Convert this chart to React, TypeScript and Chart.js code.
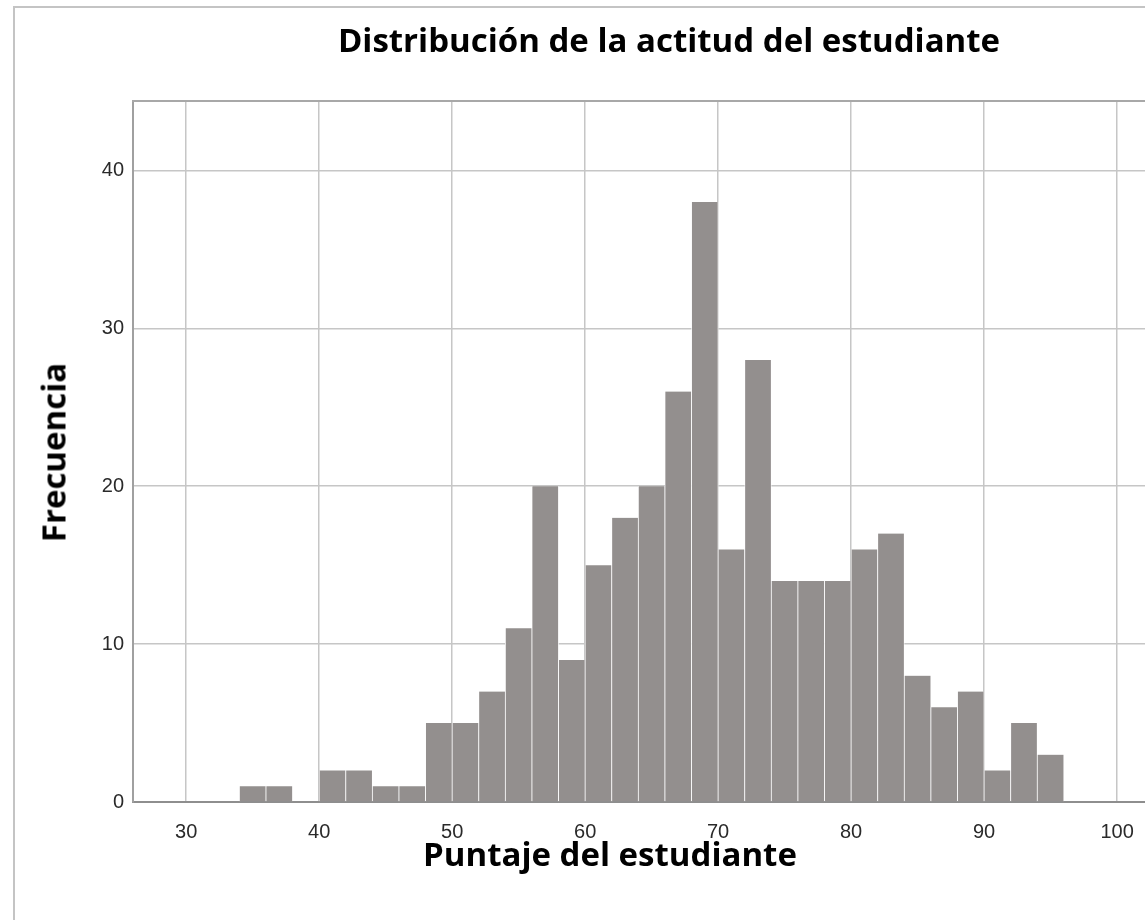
import React, { useEffect, useRef } from "react";
import { Chart, registerables } from "chart.js";

Chart.register(...registerables);

const chartTitle = "Distribución de la actitud del estudiante";
const xAxisTitle = "Puntaje del estudiante";
const yAxisTitle = "Frecuencia";

const binWidth = 2;
const binStarts = [
  34, 36, 38, 40, 42, 44, 46, 48, 50, 52, 54, 56, 58, 60, 62, 64,
  66, 68, 70, 72, 74, 76, 78, 80, 82, 84, 86, 88, 90, 92, 94,
];
const frequencies = [
  1, 1, 0, 2, 2, 1, 1, 5, 5, 7, 11, 20, 9, 15, 18, 20,
  26, 38, 16, 28, 14, 14, 14, 16, 17, 8, 6, 7, 2, 5, 3,
];
const xTickValues = [30, 40, 50, 60, 70, 80, 90, 100];
const yTickValues = [0, 10, 20, 30, 40];
const xMin = 26;
const xMax = 102.1;
const yMin = 0;
const yMax = 44.4;

const W = 1145;
const H = 920;
const tickFont = { family: "'Liberation Sans', Arial, sans-serif", size: 20 };
const titleFont = "'Open Sans', 'Noto Sans', sans-serif";

export default function App() {
  const ref = useRef<HTMLCanvasElement | null>(null);

  useEffect(() => {
    if (!ref.current) return;
    const points = binStarts.map((s, i) => ({ x: s + binWidth / 2, y: frequencies[i] }));
    const noSidePadding = (s: any) => {
      s.paddingLeft = 0;
      s.paddingRight = 0;
    };
    const chart = new Chart(ref.current, {
      type: "bar",
      data: {
        datasets: [
          {
            data: points as any,
            backgroundColor: "#938f8e",
            borderColor: "#ffffff",
            borderWidth: { left: 0.75, right: 0.75, top: 0, bottom: 0 } as any,
            barPercentage: 1,
            categoryPercentage: 1,
          },
        ],
      },
      options: {
        responsive: false,
        animation: false,
        devicePixelRatio: 1,
        layout: { padding: { left: 0, right: 0, top: 101, bottom: 0 } },
        plugins: {
          legend: { display: false },
          tooltip: { enabled: false },
          title: { display: false },
        },
        scales: {
          x: {
            type: "linear",
            position: "bottom",
            min: xMin,
            max: xMax,
            offset: false,
            afterBuildTicks: (s: any) => {
              s.ticks = xTickValues.map((v) => ({ value: v }));
            },
            afterFit: (s: any) => {
              s.height = 118;
              noSidePadding(s);
            },
            grid: { color: "#c6c6c6", lineWidth: 1.5, drawTicks: false, offset: false },
            border: { color: "#8e8e8e", width: 2 },
            ticks: { padding: 18, font: tickFont, color: "#2a2a2a", maxRotation: 0, autoSkip: false },
          },
          y: {
            type: "linear",
            min: yMin,
            max: yMax,
            afterBuildTicks: (s: any) => {
              s.ticks = yTickValues.map((v) => ({ value: v }));
            },
            afterFit: (s: any) => {
              s.width = 133;
            },
            grid: { color: "#c6c6c6", lineWidth: 1.5, drawTicks: false },
            border: { color: "#a0a0a0", width: 2 },
            ticks: { padding: 9, font: tickFont, color: "#2a2a2a" },
          },
          xTop: {
            type: "linear",
            position: "top",
            min: xMin,
            max: xMax,
            display: true,
            grid: { display: false, drawTicks: false },
            ticks: { display: false },
            border: { color: "#a8a8a8", width: 2 },
            afterFit: (s: any) => {
              s.height = 0;
              noSidePadding(s);
            },
          },
        },
      } as any,
    });
    return () => chart.destroy();
  }, []);

  return (
    <div
      style={{
        position: "fixed",
        left: 0,
        top: 0,
        width: W,
        height: H,
        overflow: "hidden",
        background: "#ffffff",
      }}
    >
      <div
        style={{
          position: "absolute",
          left: 13,
          top: 6,
          width: 1400,
          height: 1200,
          borderLeft: "2px solid #c4c4c4",
          borderTop: "2px solid #c4c4c4",
        }}
      />
      <canvas
        ref={ref}
        width={W}
        height={H}
        style={{ position: "absolute", left: 0, top: 0, width: W, height: H }}
      />
      <div
        style={{
          position: "absolute",
          left: 169,
          top: 17,
          width: 1000,
          height: 33,
          lineHeight: "33px",
          textAlign: "center",
          font: `700 33px ${titleFont}`,
          color: "#000",
          whiteSpace: "nowrap",
        }}
      >
        {chartTitle}
      </div>
      <div
        style={{
          position: "absolute",
          left: 310,
          top: 831,
          width: 600,
          height: 33,
          lineHeight: "33px",
          textAlign: "center",
          font: `700 33px ${titleFont}`,
          color: "#000",
          whiteSpace: "nowrap",
        }}
      >
        {xAxisTitle}
      </div>
      <div
        style={{
          position: "absolute",
          left: -103,
          top: 435.5,
          width: 300,
          height: 33,
          lineHeight: "33px",
          textAlign: "center",
          font: `700 33px ${titleFont}`,
          color: "#000",
          whiteSpace: "nowrap",
          transform: "rotate(-90deg)",
        }}
      >
        {yAxisTitle}
      </div>
    </div>
  );
}
